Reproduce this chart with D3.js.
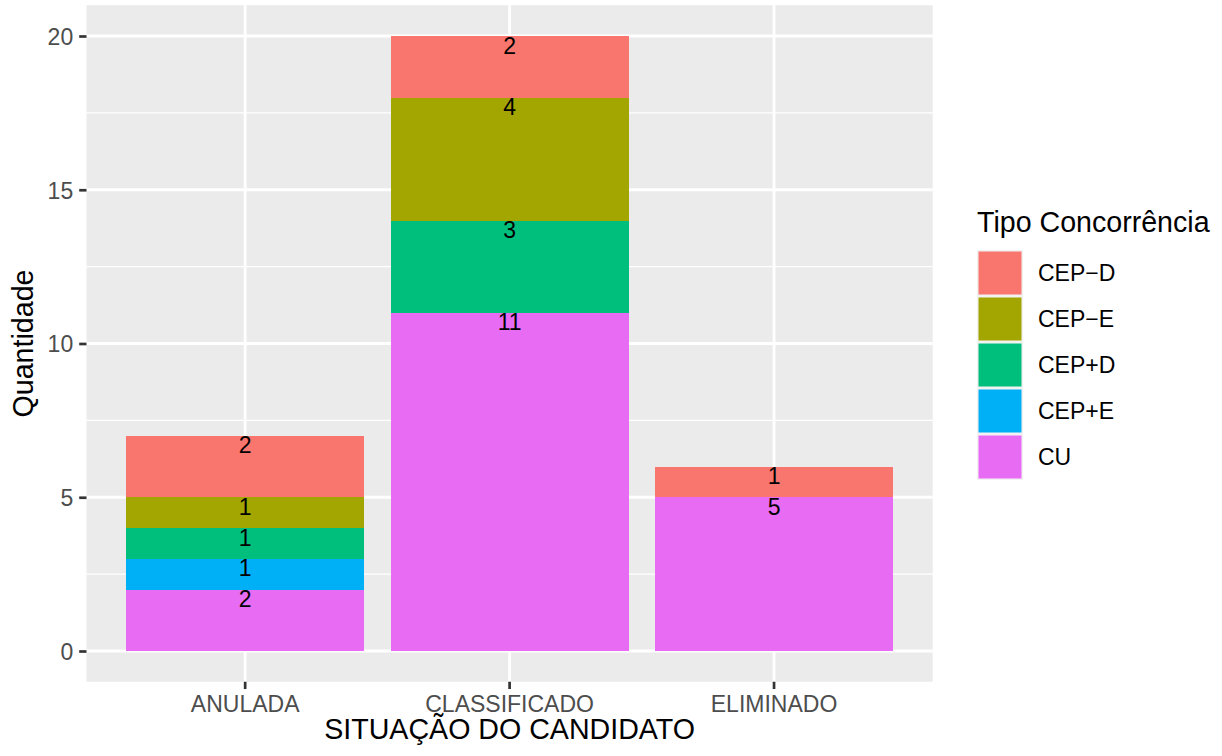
<html>
<head>
<script src="https://cdn.jsdelivr.net/npm/d3@7"></script>
<style>
  body { margin: 0; background: #fff; }
  text { font-family: "Liberation Sans", Arial, Helvetica, sans-serif; }
</style>
</head>
<body>
<div id="output"></div>
</body>
</html>

<script>
    var width = 1222, height = 756;

    // data
    var categories = ['ANULADA', 'CLASSIFICADO', 'ELIMINADO'];
    var types = ['CEP\u2212D', 'CEP\u2212E', 'CEP+D', 'CEP+E', 'CU'];
    var typeColors = ['#F8766D', '#A3A500', '#00BF7D', '#00B0F6', '#E76BF3'];
    var cepMinusD = [2, 2, 1];
    var cepMinusE = [1, 4, 0];
    var cepPlusD = [1, 3, 0];
    var cepPlusE = [1, 0, 0];
    var cu = [2, 11, 5];
    var yTicks = [0, 5, 10, 15, 20];
    var yMinor = [2.5, 7.5, 12.5, 17.5];

    var seriesByType = {};
    seriesByType[types[0]] = cepMinusD;
    seriesByType[types[1]] = cepMinusE;
    seriesByType[types[2]] = cepPlusD;
    seriesByType[types[3]] = cepPlusE;
    seriesByType[types[4]] = cu;

    var rows = categories.map(function(c, i) {
        var r = {cat: c};
        types.forEach(function(t) { r[t] = seriesByType[t][i]; });
        return r;
    });

    // bottom to top: CU first
    var stackKeys = types.slice().reverse();
    var stacked = d3.stack().keys(stackKeys)(rows);

    var color = d3.scaleOrdinal().domain(types).range(typeColors);

    var panel = {left: 86.5, right: 932.7, top: 5.25, bottom: 681.75};

    var x = d3.scaleBand()
        .domain(categories)
        .range([panel.left, panel.right])
        .paddingInner(0.1)
        .paddingOuter(0.15);

    var y = d3.scaleLinear()
        .domain([-1, 21])
        .range([panel.bottom, panel.top]);

    var svg = d3.select('#output').append('svg')
        .attr('width', width)
        .attr('height', height);

    // panel background
    svg.append('rect')
        .attr('x', panel.left).attr('y', panel.top)
        .attr('width', panel.right - panel.left)
        .attr('height', panel.bottom - panel.top)
        .attr('fill', '#EBEBEB');

    // minor grid
    svg.selectAll('.minor').data(yMinor).enter().append('line')
        .attr('x1', panel.left).attr('x2', panel.right)
        .attr('y1', d => y(d)).attr('y2', d => y(d))
        .attr('stroke', '#fff').attr('stroke-width', 1.4);

    // major grid
    svg.selectAll('.majorY').data(yTicks).enter().append('line')
        .attr('x1', panel.left).attr('x2', panel.right)
        .attr('y1', d => y(d)).attr('y2', d => y(d))
        .attr('stroke', '#fff').attr('stroke-width', 2.8);

    svg.selectAll('.majorX').data(categories).enter().append('line')
        .attr('y1', panel.top).attr('y2', panel.bottom)
        .attr('x1', d => x(d) + x.bandwidth() / 2).attr('x2', d => x(d) + x.bandwidth() / 2)
        .attr('stroke', '#fff').attr('stroke-width', 2.8);

    // bars
    var layers = svg.selectAll('.layer').data(stacked).enter().append('g')
        .attr('fill', d => color(d.key))
        .attr('shape-rendering', 'crispEdges');

    layers.selectAll('rect').data(d => d).enter().append('rect')
        .attr('x', d => x(d.data.cat))
        .attr('width', x.bandwidth())
        .attr('y', d => y(d[1]))
        .attr('height', d => y(d[0]) - y(d[1]));

    // labels, hanging under the top of each segment
    stacked.forEach(function(layer) {
        layer.forEach(function(d) {
            var v = d[1] - d[0];
            if (v <= 0) return;
            svg.append('text')
                .attr('x', x(d.data.cat) + x.bandwidth() / 2)
                .attr('y', y(d[1]) + 17.5)
                .attr('text-anchor', 'middle')
                .attr('font-size', 23)
                .attr('fill', '#000')
                .text(v);
        });
    });

    // y axis
    var yAxis = svg.append('g')
        .attr('transform', 'translate(' + panel.left + ',0)')
        .call(d3.axisLeft(y).tickValues(yTicks).tickSize(7.3).tickPadding(6));
    yAxis.select('.domain').remove();
    yAxis.selectAll('.tick line').attr('stroke', '#333333').attr('stroke-width', 2.7);
    yAxis.selectAll('.tick text')
        .attr('fill', '#4D4D4D')
        .attr('font-size', 23)
        .attr('font-family', '"Liberation Sans", Arial, sans-serif')
        .attr('dy', '0.36em');

    // x axis
    var xAxis = svg.append('g')
        .attr('transform', 'translate(0,' + panel.bottom + ')')
        .call(d3.axisBottom(x).tickSize(7.3).tickPadding(6));
    xAxis.select('.domain').remove();
    xAxis.selectAll('.tick line').attr('stroke', '#333333').attr('stroke-width', 2.7);
    xAxis.selectAll('.tick text')
        .attr('fill', '#4D4D4D')
        .attr('font-size', 23)
        .attr('font-family', '"Liberation Sans", Arial, sans-serif')
        .attr('y', 30)
        .attr('dy', 0);

    // axis titles
    svg.append('text')
        .attr('x', (panel.left + panel.right) / 2)
        .attr('y', 739)
        .attr('text-anchor', 'middle')
        .attr('font-size', 28.6)
        .attr('fill', '#000')
        .text('SITUAÇÃO DO CANDIDATO');

    svg.append('text')
        .attr('transform', 'translate(32.5,' + ((panel.top + panel.bottom) / 2) + ') rotate(-90)')
        .attr('text-anchor', 'middle')
        .attr('font-size', 28.6)
        .attr('fill', '#000')
        .text('Quantidade');

    // legend
    var legend = svg.append('g').attr('transform', 'translate(977,0)');
    legend.append('text')
        .attr('x', 0).attr('y', 232)
        .attr('font-size', 28.6)
        .attr('fill', '#000')
        .text('Tipo Concorrência');

    var keySize = 46;
    var items = legend.selectAll('.item').data(types).enter().append('g')
        .attr('transform', (d, i) => 'translate(0,' + (250 + i * keySize) + ')');
    items.append('rect')
        .attr('width', keySize).attr('height', keySize)
        .attr('fill', '#F2F2F2');
    items.append('rect')
        .attr('x', 1.5).attr('y', 1.5)
        .attr('width', keySize - 3).attr('height', keySize - 3)
        .attr('fill', d => color(d));
    items.append('text')
        .attr('x', 61).attr('y', keySize / 2 + 8.3)
        .attr('font-size', 23)
        .attr('fill', '#000')
        .text(d => d);
</script>
